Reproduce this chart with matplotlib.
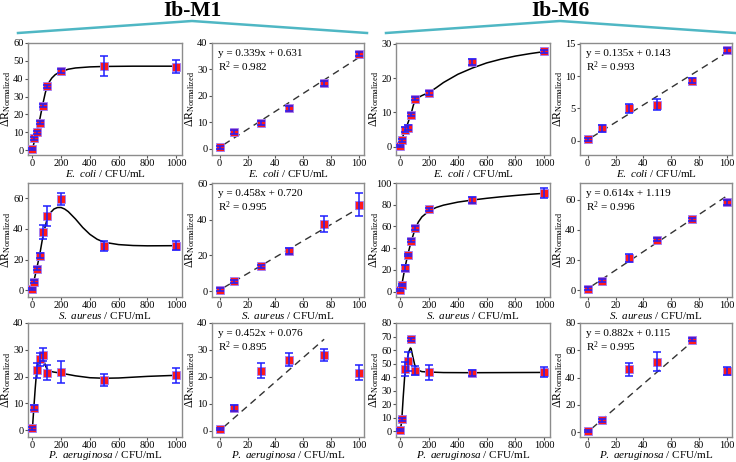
import numpy as np
import matplotlib
matplotlib.use("Agg")
import matplotlib.pyplot as plt
from matplotlib.lines import Line2D

plt.rcParams["font.family"] = ["Liberation Serif", "DejaVu Serif"]
plt.rcParams["mathtext.fontset"] = "custom"
plt.rcParams["mathtext.rm"] = "Liberation Serif"
plt.rcParams["mathtext.it"] = "Liberation Serif:italic"
plt.rcParams["mathtext.bf"] = "Liberation Serif:bold"

# concentrations (CFU/mL)
conc_full = [0, 10, 30, 50, 75, 100, 200, 500, 1000]
conc_lin = [0, 10, 30, 50, 75, 100]

bacteria = ["E. coli", "S. aureus", "P. aeruginosa"]
probes = ["Ib-M1", "Ib-M6"]

# mean response / error bars
ecoli_m1 = [0.6, 6.5, 9.9, 15.3, 24.8, 35.8, 44.3, 47.0, 46.8]
ecoli_m1_err = [0.6, 0.8, 0.7, 0.8, 0.9, 0.8, 1.2, 5.6, 3.7]
ecoli_m6 = [0.2, 1.9, 5.0, 5.6, 9.3, 14.0, 15.6, 24.6, 27.8]
ecoli_m6_err = [0.3, 0.5, 0.7, 0.8, 0.4, 0.4, 0.5, 0.8, 0.5]
saureus_m1 = [0.8, 5.6, 14.0, 22.4, 37.8, 48.3, 59.8, 29.0, 29.2]
saureus_m1_err = [0.8, 0.8, 0.9, 1.6, 4.5, 6.5, 4.0, 3.1, 3.1]
saureus_m6 = [1.2, 6.4, 21.7, 33.6, 47.0, 58.2, 75.8, 84.7, 90.8]
saureus_m6_err = [1.0, 1.0, 2.6, 1.2, 1.0, 1.8, 1.5, 2.8, 4.6]
paer_m1 = [0.7, 8.4, 22.3, 26.4, 28.2, 21.5, 21.7, 18.8, 20.6]
paer_m1_err = [0.5, 1.0, 2.7, 2.5, 2.3, 2.8, 4.0, 2.3, 2.8]
paer_m6 = [0.8, 8.8, 46.0, 51.5, 67.8, 44.8, 43.6, 42.9, 43.6]
paer_m6_err = [0.6, 1.0, 5.0, 7.0, 1.0, 3.0, 5.5, 2.5, 3.5]

# fitted curves (left panels), sampled off the figure
ecoli_m1_cx = [0, 10, 20, 30, 40, 50, 60, 75, 90, 100, 115, 135, 160, 200, 250, 300, 400, 500, 700, 1000]
ecoli_m1_cy = [0, 3.5, 6.5, 9.5, 13.0, 16.5, 20.5, 26.5, 32.0, 34.8, 37.8, 40.3, 42.3, 44.0, 45.3, 46.0, 46.6, 46.85, 47.0, 47.0]
ecoli_m6_cx = [0, 10, 20, 30, 50, 75, 90, 100, 120, 150, 200, 250, 300, 400, 500, 600, 700, 800, 900, 1000]
ecoli_m6_cy = [0, 1.7, 3.3, 4.7, 6.6, 9.6, 12.0, 13.2, 14.2, 14.9, 15.8, 17.2, 18.7, 21.1, 22.9, 24.4, 25.5, 26.4, 27.1, 27.7]
saureus_m1_cx = [0, 10, 30, 50, 75, 100, 125, 150, 175, 200, 225, 250, 300, 350, 400, 450, 500, 600, 700, 800, 1000]
saureus_m1_cy = [0, 5.5, 14.0, 22.5, 36.0, 45.5, 50.5, 53.0, 54.0, 54.0, 53.0, 51.3, 46.5, 41.0, 36.5, 33.3, 31.3, 29.8, 29.2, 29.0, 29.1]
saureus_m6_cx = [0, 10, 30, 50, 75, 100, 125, 150, 200, 250, 300, 400, 500, 600, 700, 800, 900, 1000]
saureus_m6_cy = [0, 6.0, 20.5, 33.0, 46.0, 56.5, 64.0, 68.8, 74.3, 77.5, 79.6, 82.4, 84.3, 85.9, 87.3, 88.5, 89.6, 90.5]
paer_m1_cx = [0, 10, 20, 30, 40, 50, 65, 75, 90, 100, 125, 150, 200, 300, 400, 500, 600, 700, 800, 1000]
paer_m1_cy = [0, 8.0, 15.5, 22.0, 25.0, 26.5, 27.4, 26.8, 24.3, 23.0, 22.0, 21.7, 21.3, 20.3, 19.6, 19.4, 19.5, 19.8, 20.1, 20.5]
paer_m6_cx = [0, 10, 20, 30, 45, 60, 70, 75, 85, 100, 125, 150, 200, 300, 500, 1000]
paer_m6_cy = [0, 8.0, 25.0, 40.0, 52.0, 59.0, 61.5, 61.0, 56.0, 49.0, 45.0, 44.0, 43.7, 43.3, 43.2, 43.4]

# linear fits (right panels): slope, intercept, R2, last x of the line
fit_slope = [[0.339, 0.135], [0.458, 0.614], [0.452, 0.882]]
fit_icpt = [[0.631, 0.143], [0.720, 1.119], [0.076, 0.115]]
fit_r2 = [[0.982, 0.993], [0.995, 0.996], [0.895, 0.995]]
fit_xend = [100, 100, 75]

means = [[ecoli_m1, ecoli_m6], [saureus_m1, saureus_m6], [paer_m1, paer_m6]]
errs = [[ecoli_m1_err, ecoli_m6_err], [saureus_m1_err, saureus_m6_err], [paer_m1_err, paer_m6_err]]
curves = [
    [(ecoli_m1_cx, ecoli_m1_cy), (ecoli_m6_cx, ecoli_m6_cy)],
    [(saureus_m1_cx, saureus_m1_cy), (saureus_m6_cx, saureus_m6_cy)],
    [(paer_m1_cx, paer_m1_cy), (paer_m6_cx, paer_m6_cy)],
]

# axis limits / ticks: [row][probe] -> (left panel, right panel)
ylims = [
    [((-2.8, 60), (-2.3, 40)), ((-2.4, 30.2), (-2.2, 15.1))],
    [((-4.4, 70), (-3.2, 60.5)), ((-5, 100), (-4.3, 71))],
    [((-2.5, 40), (-2.3, 40)), ((-4.4, 80), (-3.5, 80))],
]
ysteps = [
    [(10, 10), (10, 5)],
    [(20, 20), (20, 20)],
    [(10, 10), (10, 20)],
]

W, H = 736, 462
col_px = [(28, 182), (212, 364), (396, 550), (580, 732)]
row_px = [(43, 155), (183, 297), (323, 437)]

RED = "#ff1a1a"
BLUE = "#1f1fff"
TEAL = "#4fb7c4"


def px_axes(fig, xl, xr, yt, yb):
    ax = fig.add_axes([xl / W, 1 - yb / H, (xr - xl) / W, (yb - yt) / H])
    ax._px = (xr - xl, yb - yt)
    return ax


def style_axes(ax, ylim, ystep, xlim, xticks, name):
    ax.set_xlim(*xlim)
    ax.set_ylim(*ylim)
    ax.set_xticks(xticks)
    ax.set_yticks(np.arange(0, ylim[1] + 0.01, ystep))
    for s in ax.spines.values():
        s.set_color("#8c8c8c")
        s.set_linewidth(1.0)
    ax.tick_params(direction="out", length=2, width=0.8, color="#555555",
                   labelsize=7.5, pad=0.8, top=False, right=False)
    ax.tick_params(axis="y", pad=1.2)
    w, h = ax._px
    ax.set_ylabel(r"$\Delta$R$_{\mathrm{Normalized}}$", fontsize=8.5)
    ax.yaxis.set_label_coords(-21.5 / w, 0.5)
    ax.yaxis.label.set_va("center")
    genus, species = name.split(" ")
    ax.set_xlabel(r"$\mathit{%s}$ $\mathit{%s}$ / CFU/mL" % (genus, species), fontsize=8)
    ax.xaxis.set_label_coords(0.5, -18.5 / h)
    ax.xaxis.label.set_va("center")


def draw_points(ax, x, y, e):
    ax.plot(x, y, "s", ms=5.5, mfc=RED, mec="#9a7cff", mew=0.6, zorder=3)
    ax.errorbar(x, y, yerr=e, fmt="none", ecolor=BLUE, elinewidth=1.1,
                capsize=3, capthick=1.1, zorder=4)


fig = plt.figure(figsize=(W / 100, H / 100), dpi=100)

for r, bug in enumerate(bacteria):
    for p in range(2):
        xl, xr = col_px[2 * p]
        ax = px_axes(fig, xl, xr, *row_px[r])
        cx, cy = curves[r][p]
        ax.plot(cx, cy, color="black", lw=1.1, zorder=2)
        draw_points(ax, conc_full, means[r][p], errs[r][p])
        style_axes(ax, ylims[r][p][0], ysteps[r][p][0], (-30, 1040),
                   [0, 200, 400, 600, 800, 1000], bug)

        # linear range panel
        xl, xr = col_px[2 * p + 1]
        ax = px_axes(fig, xl, xr, *row_px[r])
        n = len(conc_lin)
        xs = np.array([3, fit_xend[r]])
        ax.plot(xs, fit_slope[r][p] * xs + fit_icpt[r][p], color="#333333",
                lw=1.0, ls=(0, (5, 3.5)), zorder=2)
        draw_points(ax, conc_lin, means[r][p][:n], errs[r][p][:n])
        style_axes(ax, ylims[r][p][1], ysteps[r][p][1], (-5.5, 103.6),
                   [0, 20, 40, 60, 80, 100], bug)
        ax.text(0.04, 0.905, "y = %.3fx + %.3f" % (fit_slope[r][p], fit_icpt[r][p]),
                transform=ax.transAxes, fontsize=8, va="center", ha="left")
        ax.text(0.04, 0.79, "R$^2$ = %.3f" % fit_r2[r][p],
                transform=ax.transAxes, fontsize=8, va="center", ha="left")

# probe headers with bracket lines
for p, name in enumerate(probes):
    x0 = 18 + 368 * p
    xc = 192 + 368 * p
    x1 = 367 + 368 * p
    fig.add_artist(Line2D([x0 / W, xc / W, x1 / W], [1 - 33 / H, 1 - 21 / H, 1 - 33 / H],
                          color=TEAL, lw=1.8, transform=fig.transFigure))
    fig.text(xc / W, 1 - 10.5 / H, name, fontsize=15.5, fontweight="bold",
             ha="center", va="center")

fig.savefig("out.png", dpi=100)
